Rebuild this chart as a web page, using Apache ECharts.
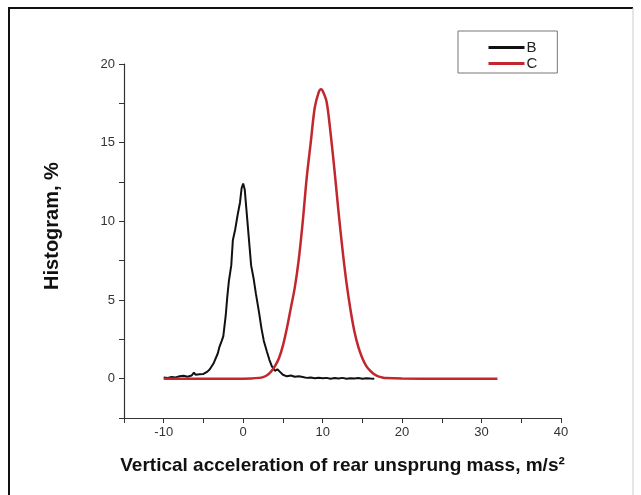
<!DOCTYPE html>
<html>
<head>
<meta charset="utf-8">
<script src="https://cdn.jsdelivr.net/npm/echarts@6/dist/echarts.min.js"></script>
<style>
  html, body { margin: 0; padding: 0; background: #fff; }
  #chart { width: 641px; height: 495px; }
</style>
</head>
<body>
<div id="chart"></div>
<script>
// series B (black, noisy)
const bX = [-10, -9.5, -9, -8.5, -8, -7.5, -7, -6.5, -6.2, -6, -5.5, -5, -4.5, -4.2, -4, -3.7, -3.5, -3.2, -3, -2.7,
    -2.5, -2.2, -2, -1.8, -1.5, -1.3, -1, -0.7, -0.4, -0.2, 0, 0.2, 0.4, 0.6, 0.8, 1.0, 1.3, 1.6, 2.0, 2.3,
    2.6, 3.0, 3.3, 3.6, 4.0, 4.3, 4.6, 5.0, 5.5, 6, 6.5, 7, 7.5, 8, 8.5, 9, 9.5, 10, 10.5, 11,
    11.5, 12, 12.5, 13, 13.5, 14, 14.5, 15, 15.5, 16, 16.5];
const bY = [0.08, 0.05, 0.1, 0.08, 0.15, 0.18, 0.12, 0.2, 0.38, 0.25, 0.28, 0.3, 0.45, 0.6, 0.7, 1.0, 1.1, 1.6, 2.0, 2.4,
    2.7, 4.0, 5.2, 6.2, 7.2, 8.8, 9.5, 10.4, 11.2, 12.1, 12.4, 12.0, 10.8, 9.6, 8.4, 7.2, 6.4, 5.4, 4.2, 3.2,
    2.4, 1.7, 1.2, 0.8, 0.5, 0.6, 0.45, 0.25, 0.15, 0.2, 0.12, 0.15, 0.1, 0.05, 0.08, 0.03, 0.06, 0.02, 0.05, 0.0,
    0.04, 0.01, 0.05, 0.0, 0.03, 0.01, 0.04, 0.0, 0.03, 0.01, 0.0];

// series C (red, smooth)
const cX = [-10, -5, 0, 1, 2, 2.5, 3, 3.5, 4, 4.5, 5, 5.5, 6, 6.5, 7, 7.5, 8, 8.5, 9, 9.5,
    9.8, 10, 10.5, 11, 11.5, 12, 12.5, 13, 13.5, 14, 14.5, 15, 15.5, 16, 16.5, 17, 17.5, 18, 20, 25, 32];
const cY = [0, 0, 0, 0.01, 0.05, 0.1, 0.22, 0.45, 0.8, 1.3, 2.1, 3.2, 4.5, 5.8, 7.6, 10.0, 12.8, 15.0, 17.2, 18.2,
    18.4, 18.3, 17.6, 15.6, 13.2, 10.6, 8.2, 6.1, 4.4, 3.0, 2.0, 1.3, 0.8, 0.5, 0.28, 0.15, 0.08, 0.04, 0.01, 0, 0];

const xTicks = [-10, 0, 10, 20, 30, 40];
const yTicks = [0, 5, 10, 15, 20];

const pairs = (xs, ys) => xs.map((x, i) => [x, ys[i]]);

const chart = echarts.init(document.getElementById('chart'));

const axisFont = { fontFamily: 'Liberation Sans', fontSize: 13, color: '#333' };

chart.setOption({
    animation: false,
    backgroundColor: '#fff',
    grid: { left: 124, right: 80, top: 64, bottom: 77 },
    legend: {
        orient: 'vertical',
        left: 458,
        top: 31,
        padding: [9, 20, 2, 29],
        itemWidth: 36,
        itemHeight: 14,
        itemGap: 1,
        borderColor: '#777',
        borderWidth: 1,
        itemStyle: { opacity: 0 },
        lineStyle: { width: 3 },
        textStyle: { fontFamily: 'Liberation Sans', fontSize: 15, color: '#222', padding: [0, 0, 0, -3] },
        data: ['B', 'C']
    },
    xAxis: {
        type: 'value',
        min: -15,
        max: 40,
        interval: 5,
        name: 'Vertical acceleration of rear unsprung mass, m/s²',
        nameLocation: 'middle',
        nameGap: 38,
        nameTextStyle: { fontFamily: 'Liberation Sans', fontSize: 19, fontWeight: 'bold', color: '#111' },
        axisLine: { show: true, onZero: false, lineStyle: { color: '#333', width: 1.2 } },
        axisTick: { show: true, length: 5, lineStyle: { color: '#333' } },
        axisLabel: Object.assign({
            margin: 8,
            formatter: v => xTicks.includes(v) ? String(v) : ''
        }, axisFont),
        splitLine: { show: false }
    },
    yAxis: {
        type: 'value',
        min: -2.5,
        max: 20,
        interval: 2.5,
        name: 'Histogram, %',
        nameLocation: 'middle',
        nameGap: 62,
        nameTextStyle: { fontFamily: 'Liberation Sans', fontSize: 20, fontWeight: 'bold', color: '#111', padding: [0, 0, 0, 30] },
        axisLine: { show: true, onZero: false, lineStyle: { color: '#333', width: 1.2 } },
        axisTick: { show: true, length: 5, lineStyle: { color: '#333' } },
        axisLabel: Object.assign({
            margin: 9,
            formatter: v => yTicks.includes(v) ? String(v) : ''
        }, axisFont),
        splitLine: { show: false }
    },
    graphic: [
        { type: 'polyline', shape: { points: [[9, 495], [9, 8], [633, 8]] }, style: { stroke: '#111', lineWidth: 2, fill: null } },
        { type: 'line', shape: { x1: 633, y1: 8, x2: 633, y2: 495 }, style: { stroke: '#ccc', lineWidth: 1 } }
    ],
    series: [
        {
            name: 'B',
            type: 'line',
            data: pairs(bX, bY),
            symbol: 'none',
            lineStyle: { color: '#111', width: 2 },
            itemStyle: { color: '#111' }
        },
        {
            name: 'C',
            type: 'line',
            data: pairs(cX, cY),
            symbol: 'none',
            smooth: 0.3,
            lineStyle: { color: '#c1272d', width: 2.5 },
            itemStyle: { color: '#c1272d' }
        }
    ]
});
</script>
</body>
</html>
